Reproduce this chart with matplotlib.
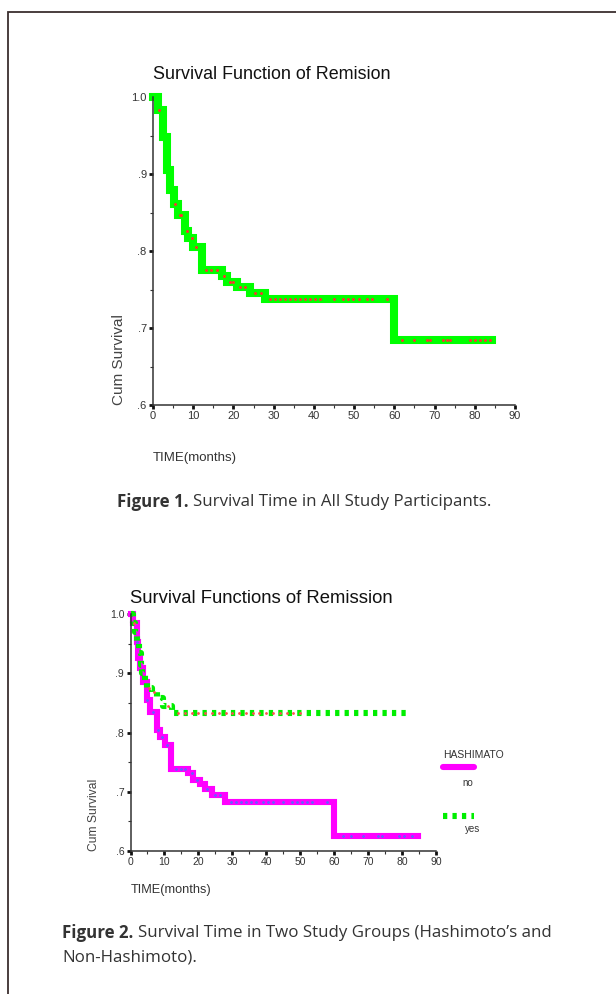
import matplotlib.pyplot as plt
import numpy as np
from matplotlib.lines import Line2D
from matplotlib.patches import Rectangle

# Figure 1 - all participants
t_all = [0, 1.3, 2.5, 3.4, 4.2, 5.2, 6.1, 8.0, 8.8, 10.0, 12.1, 17.1, 18.5, 20.8, 24.1, 27.9, 60.0]
s_all = [1.0, 0.983, 0.948, 0.905, 0.879, 0.861, 0.847, 0.826, 0.817, 0.805, 0.775, 0.768, 0.760,
         0.753, 0.745, 0.738, 0.685]
end_all = 84.2
cens_all = [1.6, 5.5, 6.6, 7.0, 8.4, 9.7, 10.7, 13.3, 14.5, 15.8, 17.6, 19.2, 20.0, 21.6, 22.9,
            25.3, 26.9, 29.1, 30.3, 31.6, 32.8, 34.1, 35.3, 36.6, 37.8, 39.1, 40.3, 41.5, 44.9,
            47.3, 48.6, 49.8, 51.1, 53.2, 54.4, 58.1, 61.9, 64.8, 68.1, 68.9, 72.2, 73.1, 73.9,
            78.9, 80.1, 81.3, 82.6, 83.8]

# Figure 2 - by Hashimoto group
t_no = [0, 0.8, 1.8, 2.3, 2.8, 3.8, 4.8, 5.7, 7.7, 8.7, 10.1, 11.9, 17.0, 18.5, 20.4, 21.9, 23.9, 27.8, 60.0]
s_no = [1.0, 0.985, 0.954, 0.926, 0.909, 0.886, 0.855, 0.835, 0.805, 0.793, 0.779, 0.738, 0.732,
        0.720, 0.714, 0.705, 0.695, 0.683, 0.625]
end_no = 84.6
cens_no = [2.0, 5.0, 6.5, 8.0, 9.3, 10.8, 13.5, 14.8, 16.0, 18.0, 19.5, 22.5, 25.0, 26.5, 29.5,
           31.0, 32.5, 34.0, 35.5, 37.0, 39.0, 40.5, 42.0, 45.0, 47.5, 49.0, 50.5, 52.0, 53.5,
           58.0, 62.5, 65.0, 68.5, 73.0, 74.0, 79.0, 80.5, 83.0]

t_yes = [0, 0.8, 1.4, 2.0, 2.5, 3.0, 3.5, 4.2, 4.8, 6.2, 7.8, 9.6, 12.3]
s_yes = [1.0, 0.985, 0.970, 0.955, 0.935, 0.915, 0.900, 0.888, 0.876, 0.868, 0.858, 0.845, 0.833]
end_yes = 82.2
cens_yes = [1.1, 5.5, 7.0, 11.0, 14.0, 16.0, 18.0, 20.0, 22.0, 24.0, 26.0, 28.0, 30.0, 32.0,
            34.0, 36.0, 38.0, 40.0, 42.0, 44.0, 46.0, 48.0, 50.0]

yticks = [0.6, 0.7, 0.8, 0.9, 1.0]
ytick_labels = ['.6', '.7', '.8', '.9', '1.0']
xticks = [0, 10, 20, 30, 40, 50, 60, 70, 80, 90]

sans = 'Liberation Sans'


def step_at(times, surv, t):
    idx = np.searchsorted(times, t, side='right') - 1
    return np.array(surv)[idx]


def km_line(ax, times, surv, end, **kw):
    tt = np.append(times, end)
    ss = np.append(surv, surv[-1])
    return ax.step(tt, ss, where='post', clip_on=False, **kw)


def style_axes(ax, tick_size):
    ax.set_xlim(0, 90)
    ax.set_ylim(0.6, 1.0)
    ax.set_xticks(xticks)
    ax.set_xticks(np.arange(5, 90, 10), minor=True)
    ax.set_yticks(yticks)
    ax.set_yticklabels(ytick_labels)
    ax.set_yticks([0.65, 0.75, 0.85, 0.95], minor=True)
    for s in ['top', 'right']:
        ax.spines[s].set_visible(False)
    for s in ['left', 'bottom']:
        ax.spines[s].set_linewidth(1.1)
        ax.spines[s].set_color('#333333')
    ax.tick_params(which='major', length=3, width=2, color='#111111', labelsize=tick_size,
                   pad=1.5, labelcolor='#333333')
    ax.tick_params(which='minor', length=2.5, width=0.8, color='#333333')
    for lab in ax.get_xticklabels() + ax.get_yticklabels():
        lab.set_fontfamily(sans)


fig = plt.figure(figsize=(6.16, 9.94), dpi=100)

# page border (top and left edge of the article box)
fig.add_artist(Rectangle((8 / 616, -0.05), 1.2, 1.05 - 12 / 994, transform=fig.transFigure,
                         fill=False, edgecolor='#3b2f2f', linewidth=1.3))

# ---- Figure 1 ----
ax1 = fig.add_axes([153 / 616, 1 - 405 / 994, 362 / 616, 308 / 994])
km_line(ax1, t_all, s_all, end_all, color='#00ff00', linewidth=5.8, solid_joinstyle='miter')
ax1.plot(cens_all, step_at(t_all, s_all, cens_all), ls='none', marker='o', ms=1.1,
         color='#ff3030', clip_on=False)
style_axes(ax1, 8)
ax1.set_title('Survival Function of Remision', loc='left', pad=13, fontsize=12.9,
              family=sans, color='#111111')
ax1.set_ylabel('Cum Survival', loc='bottom', fontsize=11, color='#444444', family=sans)
ax1.yaxis.set_label_coords(-0.075, 0)
ax1.set_xlabel('TIME(months)', loc='left', fontsize=9.5, color='#333333', family=sans)
ax1.xaxis.set_label_coords(0, -0.152)

# ---- Figure 2 ----
ax2 = fig.add_axes([130.5 / 616, 1 - 851 / 994, 305.5 / 616, 236.7 / 994])
km_line(ax2, t_no, s_no, end_no, color='#ff00ff', linewidth=4.4, solid_joinstyle='miter')
km_line(ax2, t_yes, s_yes, end_yes, color='#00ee00', linewidth=4.4, dashes=(0.7, 0.85),
        dash_capstyle='butt')
ax2.plot(cens_no, step_at(t_no, s_no, cens_no), ls='none', marker='o', ms=1.0,
         color='#6060ff', clip_on=False)
ax2.plot(cens_yes, step_at(t_yes, s_yes, cens_yes), ls='none', marker='o', ms=1.0,
         color='#ff5050', clip_on=False)
style_axes(ax2, 7.5)
ax2.set_title('Survival Functions of Remission', loc='left', pad=8, fontsize=13.3,
              family=sans, color='#111111')
ax2.set_ylabel('Cum Survival', loc='bottom', fontsize=8.7, color='#444444', family=sans)
ax2.yaxis.set_label_coords(-0.1, 0)
ax2.set_xlabel('TIME(months)', loc='left', fontsize=9.2, color='#333333', family=sans)
ax2.xaxis.set_label_coords(0, -0.14)

# legend: handles from the library, labels hung under each handle like SPSS does
handles = [Line2D([], [], color='#ff00ff', linewidth=4.4, solid_capstyle='round'),
           Line2D([], [], color='#00ee00', linewidth=4.4, dashes=(0.7, 0.85), dash_capstyle='butt')]
leg = ax2.legend(handles, ['', ''], loc='upper left', bbox_to_anchor=(1.023, 0.37),
                 frameon=False, fontsize=6.5, handlelength=3.4, handletextpad=0,
                 labelspacing=4.4, borderpad=0, borderaxespad=0)
hh = leg.legend_handles
ax2.annotate('HASHIMATO', xy=(0, 1), xycoords=hh[0], xytext=(0, 5), textcoords='offset points',
             va='bottom', ha='left', fontsize=7.5, color='#333333', family=sans)
ax2.annotate('no', xy=(0.62, 0), xycoords=hh[0], xytext=(0, -7.5), textcoords='offset points',
             va='top', ha='left', fontsize=7, color='#333333', family=sans)
ax2.annotate('yes', xy=(0.7, 0), xycoords=hh[1], xytext=(0, -6), textcoords='offset points',
             va='top', ha='left', fontsize=7, color='#333333', family=sans)

# captions
cap_font = 'Open Sans'
fig.canvas.draw()
r = fig.canvas.get_renderer()

b1 = fig.text(117 / 616, 1 - 502 / 994, 'Figure 1.', fontsize=12.2, fontweight='bold',
              family=cap_font, va='center', color='#333333')
w1 = b1.get_window_extent(r).width
fig.text(117 / 616 + (w1 + 4) / 616, 1 - 502 / 994, 'Survival Time in All Study Participants.',
         fontsize=12.2, family=cap_font, va='center', color='#333333')

b2 = fig.text(62 / 616, 1 - 933 / 994, 'Figure 2.', fontsize=12.2, fontweight='bold',
              family=cap_font, va='center', color='#333333')
w2 = b2.get_window_extent(r).width
fig.text(62 / 616 + (w2 + 5) / 616, 1 - 933 / 994,
         'Survival Time in Two Study Groups (Hashimoto\u2019s and',
         fontsize=12.2, family=cap_font, va='center', color='#333333')
fig.text(62 / 616, 1 - 958 / 994, 'Non-Hashimoto).', fontsize=12.2, family=cap_font,
         va='center', color='#333333')

fig.savefig('out.png', dpi=100)
